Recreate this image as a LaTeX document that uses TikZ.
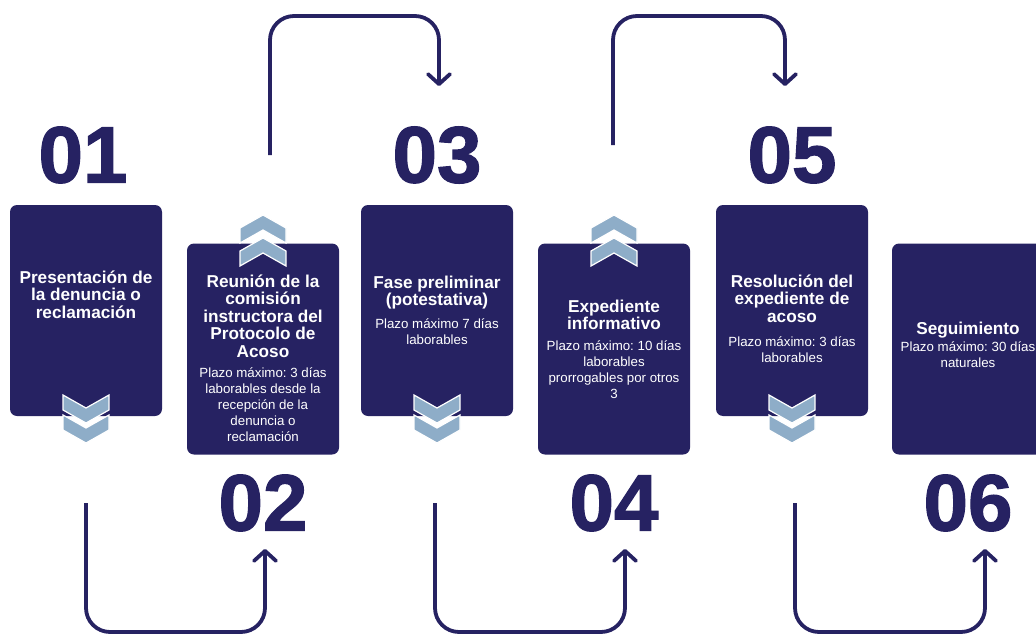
\documentclass[tikz,border=0pt]{standalone}
\usepackage{fontspec}
\setmainfont{Liberation Sans}
\newfontfamily\numfont[BoldFeatures={FakeBold=1.6}]{Liberation Sans}
\usetikzlibrary{arrows.meta}
\frenchspacing

\definecolor{navy}{HTML}{262262}
\definecolor{steel}{HTML}{8EADC8}

\tikzset{
	stepbox/.style={fill=navy, rounded corners=7pt, minimum width=152pt, minimum height=211pt, inner sep=0pt},
	steptitle/.style={text=white, align=center, anchor=north, inner sep=0pt, font=\fontsize{17.2}{17.5}\selectfont\bfseries},
	stepnote/.style={text=white, align=center, anchor=north, inner sep=0pt, font=\fontsize{13.3}{16}\selectfont},
	stepnum/.style={text=navy, inner sep=0pt, font=\fontsize{80}{80}\numfont\bfseries},
	link/.style={draw=navy, line width=3.8pt, rounded corners=24pt, -{Straight Barb[length=10pt,width=22pt,line join=round,line cap=round]}},
	chevdown/.pic={
		\foreach \d in {20,0}
			\filldraw[fill=steel, draw=white, line width=1.2pt] (-23,\d) -- (0,\d+13) -- (23,\d) -- (23,\d+15) -- (0,\d+28) -- (-23,\d+15) -- cycle;
	},
	chevup/.pic={
		\foreach \d in {23,0}
			\filldraw[fill=steel, draw=white, line width=1.2pt] (-23,\d+13) -- (0,\d) -- (23,\d+13) -- (23,\d+28) -- (0,\d+15) -- (-23,\d+28) -- cycle;
	}
}

\begin{document}
\begin{tikzpicture}[x=1pt, y=-1pt]
	\useasboundingbox (0,0) rectangle (1036,634);
	\clip (0,0) rectangle (1036,634);

	% boxes
	\node[stepbox] (box1) at (86,310.5) {};
	\node[stepbox] (box2) at (263,349) {};
	\node[stepbox] (box3) at (437,310.5) {};
	\node[stepbox] (box4) at (614,349) {};
	\node[stepbox] (box5) at (792,310.5) {};
	\node[stepbox] (box6) at (968,349) {};

	% chevrons
	\pic at (86,395) {chevdown};
	\pic at (437,395) {chevdown};
	\pic at (792,395) {chevdown};
	\pic at (263,215) {chevup};
	\pic at (614,215) {chevup};

	% texts
	\node[steptitle] (t1) at (86,270.6) {Presentación de\\la denuncia o\\reclamación};

	\node[steptitle] (t2) at (263,274.6) {Reunión de la\\comisión\\instructora del\\Protocolo de\\Acoso};
	\node[stepnote] (s2) at (263,367.6) {Plazo máximo: 3 días\\laborables desde la\\recepción de la\\denuncia o\\reclamación};

	\node[steptitle] (t3) at (437,275.6) {Fase preliminar\\(potestativa)};
	\node[stepnote] (s3) at (437,319) {Plazo máximo 7 días\\laborables};

	\node[steptitle] (t4) at (614,299.6) {Expediente\\informativo};
	\node[stepnote] (s4) at (614,340.6) {Plazo máximo: 10 días\\laborables\\prorrogables por otros\\3};

	\node[steptitle] (t5) at (792,274.6) {Resolución del\\expediente de\\acoso};
	\node[stepnote] (s5) at (792,336.6) {Plazo máximo: 3 días\\laborables};

	\node[steptitle] (t6) at (968,321.6) {Seguimiento};
	\node[stepnote] (s6) at (968,342) {Plazo máximo: 30 días\\naturales};

	% numbers
	\node[stepnum] (n1) at (83,155) {01};
	\node[stepnum] (n2) at (263,503) {02};
	\node[stepnum] (n3) at (437,155) {03};
	\node[stepnum] (n4) at (614,503) {04};
	\node[stepnum] (n5) at (792,155) {05};
	\node[stepnum] (n6) at (968,503) {06};

	% connectors
	\coordinate (top) at (0,16);
	\coordinate (bot) at (0,632);

	\coordinate (a1) at (270,155);
	\coordinate (b1) at (439,86);
	\coordinate (a2) at (613,145);
	\coordinate (b2) at (785,86);

	\coordinate (c1) at (86,503);
	\coordinate (d1) at (265,549);
	\coordinate (c2) at (435,503);
	\coordinate (d2) at (625,549);
	\coordinate (c3) at (795,503);
	\coordinate (d3) at (985,549);

	\draw[link] (a1) |- (b1 |- top) -- (b1);
	\draw[link] (a2) |- (b2 |- top) -- (b2);

	\draw[link] (c1) |- (d1 |- bot) -- (d1);
	\draw[link] (c2) |- (d2 |- bot) -- (d2);
	\draw[link] (c3) |- (d3 |- bot) -- (d3);
\end{tikzpicture}
\end{document}
